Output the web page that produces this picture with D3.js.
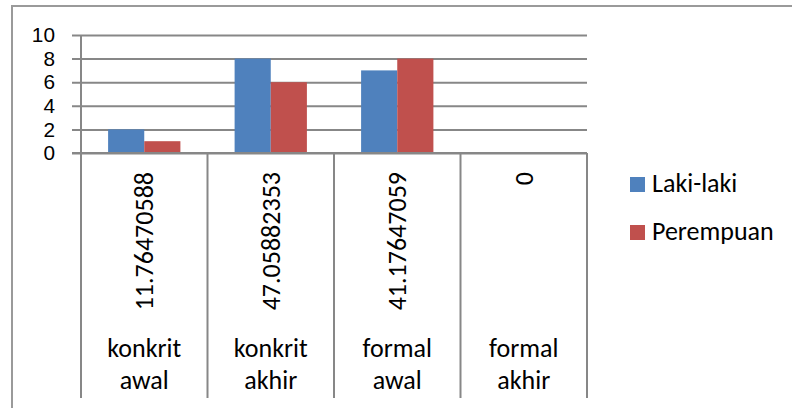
<!DOCTYPE html>
<html>
<head>
<meta charset="utf-8">
<script src="https://cdn.jsdelivr.net/npm/d3@7"></script>
<style>
  body { margin: 0; background: #fff; }
  text { font-family: Carlito, Lato, "Liberation Sans", sans-serif; fill: #000; }
</style>
</head>
<body>
<div id="chart"></div>
<script>
// data
const categories = ['konkrit awal', 'konkrit akhir', 'formal awal', 'formal akhir'];
const categoryLines = [['konkrit', 'awal'], ['konkrit', 'akhir'], ['formal', 'awal'], ['formal', 'akhir']];
const percentLabels = ['11.76470588', '47.05882353', '41.17647059', '0'];
const seriesNames = ['Laki-laki', 'Perempuan'];
const lakiLaki = [2, 8, 7, 0];
const perempuan = [1, 6, 8, 0];
const yTicks = [0, 2, 4, 6, 8, 10];

const colors = ['#4F81BD', '#C0504D'];
const grey = '#878787';
const W = 792, H = 408;
const fs = 26;

const svg = d3.select('#chart').append('svg').attr('width', W).attr('height', H);

// outer border (only top/left visible)
svg.append('rect').attr('x', 12).attr('y', 6).attr('width', 800).attr('height', 420)
    .attr('fill', 'none').attr('stroke', '#9a9a9a').attr('stroke-width', 2);

const plot = { left: 81, right: 587, top: 35, bottom: 153, axisBottom: 398 };

const x = d3.scaleBand().domain(categories).range([plot.left, plot.right]).padding(0);
const xs = d3.scaleBand().domain(seriesNames).range([0, x.bandwidth()]).paddingInner(0).paddingOuter(0.75);
const y = d3.scaleLinear().domain([0, 10]).range([plot.bottom, plot.top]);

// gridlines + y labels
const yAxis = svg.append('g')
    .attr('transform', `translate(${plot.right},0)`)
    .call(d3.axisLeft(y).tickValues(yTicks).tickSize(plot.right - 72).tickPadding(17));
yAxis.select('.domain').remove();
yAxis.selectAll('line').attr('stroke', grey).attr('stroke-width', 2);
// tick labels are packed tightly, so a font with a short line box
yAxis.selectAll('text').attr('font-size', '20.8px').attr('fill', '#000')
    .style('font-family', '"Liberation Sans", Arial, sans-serif');

// vertical axis line
svg.append('line').attr('x1', plot.left).attr('x2', plot.left)
    .attr('y1', plot.top).attr('y2', plot.axisBottom)
    .attr('stroke', grey).attr('stroke-width', 2);

// category separators
const bounds = categories.map(c => x(c) + x.bandwidth());
svg.selectAll('.sep').data(bounds).join('line')
    .attr('x1', d => d).attr('x2', d => d)
    .attr('y1', plot.bottom).attr('y2', plot.axisBottom)
    .attr('stroke', grey).attr('stroke-width', 2);

// bars
const series = [lakiLaki, perempuan];
series.forEach((vals, si) => {
    svg.append('g').selectAll('rect').data(vals).join('rect')
        .attr('x', (d, i) => x(categories[i]) + xs(seriesNames[si]))
        .attr('y', d => y(d))
        .attr('width', xs.bandwidth())
        .attr('height', d => y(0) - y(d))
        .attr('fill', colors[si]);
});

// redraw the zero line on top of the bars
svg.append('line').attr('x1', 72).attr('x2', plot.right)
    .attr('y1', y(0)).attr('y2', y(0))
    .attr('stroke', grey).attr('stroke-width', 2);

// rotated percent labels
svg.selectAll('.pct').data(percentLabels).join('text')
    .attr('transform', (d, i) => `translate(${x(categories[i]) + x.bandwidth() / 2},172) rotate(-90)`)
    .attr('text-anchor', 'end')
    .attr('dy', '0.35em')
    .attr('font-size', fs + 'px')
    .text(d => d);

// category names, two lines
categoryLines.forEach((lines, i) => {
    const t = svg.append('text')
        .attr('x', x(categories[i]) + x.bandwidth() / 2)
        .attr('y', 357)
        .attr('text-anchor', 'middle')
        .attr('font-size', fs + 'px');
    lines.forEach((ln, j) => {
        t.append('tspan').attr('x', x(categories[i]) + x.bandwidth() / 2)
            .attr('dy', j === 0 ? 0 : 32).text(ln);
    });
});

// legend
const legend = svg.append('g');
seriesNames.forEach((name, i) => {
    const ly = 177 + i * 48;
    legend.append('rect').attr('x', 630).attr('y', ly).attr('width', 15).attr('height', 15).attr('fill', colors[i]);
    legend.append('text').attr('x', 652).attr('y', ly + 15).attr('font-size', fs + 'px').text(name);
});
</script>
</body>
</html>
